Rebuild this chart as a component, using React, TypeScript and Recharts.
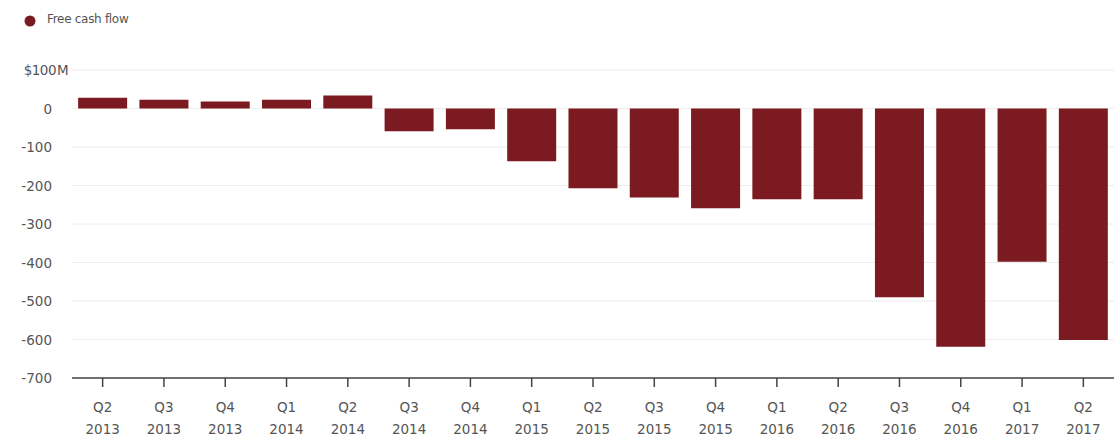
import { BarChart, Bar, XAxis, YAxis, CartesianGrid } from "recharts";

const quarters = ["Q2", "Q3", "Q4", "Q1", "Q2", "Q3", "Q4", "Q1", "Q2", "Q3", "Q4", "Q1", "Q2", "Q3", "Q4", "Q1", "Q2"];
const years = ["2013", "2013", "2013", "2014", "2014", "2014", "2014", "2015", "2015", "2015", "2015", "2016", "2016", "2016", "2016", "2017", "2017"];
const freeCashFlow = [28, 23, 18, 23, 34, -59, -54, -137, -207, -231, -259, -236, -236, -490, -619, -398, -601];
const yTicks = [100, 0, -100, -200, -300, -400, -500, -600, -700];

const data = quarters.map((q, i) => ({
  label: `${q} ${years[i]}`,
  value: freeCashFlow[i],
}));

const RED = "#7b1a20";
const TEXT = "#555";
const FONT = "'DejaVu Sans', sans-serif";

function YTick({ x, y, payload }: any) {
  const v = payload.value;
  if (v === 100) {
    return (
      <g>
        <text x={x + 4} y={y} dy={5} textAnchor="end" fontSize={13.5} fill={TEXT} fontFamily={FONT} letterSpacing={-0.5}>
          $100
        </text>
        <text x={x + 5} y={y} dy={5} textAnchor="start" fontSize={13.5} fill={TEXT} fontFamily={FONT}>
          M
        </text>
      </g>
    );
  }
  return (
    <text x={x} y={y} dy={5} textAnchor="end" fontSize={13.5} fill={TEXT} fontFamily={FONT}>
      {v}
    </text>
  );
}

function XTick({ x, y, index }: any) {
  return (
    <g>
      <text x={x} y={y + 25} textAnchor="middle" fontSize={13.5} fill={TEXT} fontFamily={FONT}>
        {quarters[index]}
      </text>
      <text x={x} y={y + 47} textAnchor="middle" fontSize={13.5} fill={TEXT} fontFamily={FONT}>
        {years[index]}
      </text>
    </g>
  );
}

export default function App() {
  return (
    <div style={{ position: "absolute", top: 0, left: 0, width: 1115, height: 439, background: "#fff" }}>
      <svg width={220} height={40} style={{ position: "absolute", top: 0, left: 0 }}>
        <circle cx={30} cy={21} r={5.5} fill={RED} />
        <text x={47} y={19} dy={4} fontSize={12} fill={TEXT} fontFamily={FONT} letterSpacing={-0.3}>
          Free cash flow
        </text>
      </svg>
      <BarChart
        width={1115}
        height={439}
        data={data}
        margin={{ top: 70, right: 1, left: 0, bottom: 6 }}
        barCategoryGap="10%"
      >
        <CartesianGrid vertical={false} stroke="#ececec" />
        <XAxis
          dataKey="label"
          interval={0}
          height={55}
          tick={<XTick />}
          tickSize={9}
          tickMargin={0}
          tickLine={{ stroke: "#444", strokeWidth: 1.5 }}
          axisLine={{ stroke: "#444", strokeWidth: 1.5 }}
        />
        <YAxis
          width={72}
          domain={[-700, 100]}
          ticks={yTicks}
          interval={0}
          tick={<YTick />}
          tickLine={false}
          axisLine={false}
          tickSize={0}
          tickMargin={20}
        />
        <Bar dataKey="value" fill={RED} isAnimationActive={false} />
      </BarChart>
    </div>
  );
}
